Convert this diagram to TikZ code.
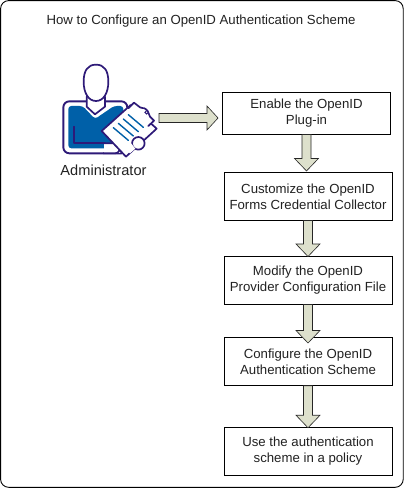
\documentclass[tikz,border=0pt]{standalone}
\usepackage{fontspec}
\usetikzlibrary{calc}
\setmainfont{Liberation Sans}
\definecolor{arrowfill}{HTML}{DDE0CC}
\definecolor{figline}{HTML}{2E1A78}
\definecolor{figblue}{HTML}{0060A8}
\definecolor{txt}{HTML}{222222}
\tikzset{
  stepbox/.style={draw=black,line width=0.9pt,fill=white,minimum width=168pt,inner sep=0pt,align=center,font=\fontsize{13.2pt}{16pt}\selectfont,text=txt},
  fatarrow/.style={draw=black!85,line width=0.6pt,fill=arrowfill,line join=miter},
  figstroke/.style={draw=figline,line width=1.7pt,line join=round,line cap=round},
}
\newcommand{\fatdown}[3]{% from node, to node, shaft length
  \draw[fatarrow] ($(#1.south)+(-4.5,0)$) -- ++(0,#3) -- ++(-7.5,0) -- ++(12,12.5) -- ++(12,-12.5) -- ++(-7.5,0) -- ++(0,-#3) -- cycle;
}
\begin{document}
\begin{tikzpicture}[x=1pt,y=-1pt]
\useasboundingbox (0,0) rectangle (404,488);
\fill[white] (0,0) rectangle (404,488);
\draw[black,line width=0.9pt,rounded corners=8pt] (0.6,0.6) rectangle (403.2,487.3);
\node[font=\fontsize{13.2pt}{16pt}\selectfont,text=txt] (title) at (201,21.5) {How to Configure an OpenID Authentication Scheme};
\node[stepbox,minimum height=42pt] (s1) at (306.5,113) {Enable the OpenID\\Plug-in};
\node[stepbox,minimum height=47.5pt] (s2) at (308,196.3) {Customize the OpenID\\Forms Credential Collector};
\node[stepbox,minimum height=47.5pt] (s3) at (308,280.3) {Modify the OpenID\\Provider Configuration File};
\node[stepbox,minimum height=48pt] (s4) at (308,361.3) {Configure the OpenID\\Authentication Scheme};
\node[stepbox,minimum height=48pt] (s5) at (308,451) {Use the authentication\\scheme in a policy};
\node[font=\fontsize{14.6pt}{16pt}\selectfont,text=txt] (admin) at (103.5,170.5) {Administrator};
% figure
\begin{scope}[shift={(40,50)},x=0.3333pt,y=-0.3333pt]
  \draw[figstroke,line width=1.9pt,fill=white,rounded corners=6pt] (70,310) -- (70,154) -- (262,154) -- (262,310) -- cycle;
  \fill[figblue,rounded corners=3pt] (85,168) -- (128,168) -- (165,207) -- (222,168) -- (250,168) -- (250,295) -- (85,295) -- cycle;
  \draw[figstroke,fill=white] (140,140) -- (140,170) -- (165,193) -- (195,170) -- (195,140);
  \draw[figstroke,fill=white] (131,95) .. controls (131,62) and (143,44) .. (168,44) .. controls (193,44) and (205,62) .. (205,95) .. controls (205,130) and (190,153) .. (168,153) .. controls (146,153) and (131,130) .. (131,95) -- cycle;
  \draw[figstroke] (102,230) -- (102,278) -- (195,278);
  \fill[white] (192,280) rectangle (240,310);
  \draw[figstroke] (190,280) -- (225,280) .. controls (245,282) and (245,308) .. (225,310) -- (190,310);
  \draw[figstroke,fill=white] (272,165) -- (350,236) -- (258,320) -- (185,243) -- cycle;
  \draw[figstroke,fill=white] (265,175) -- (282,158) -- (300,172) .. controls (305,178) and (310,170) .. (318,178) .. controls (328,185) and (325,195) .. (330,200) -- (342,212) -- (325,228);
  \draw[figline,line width=1pt,fill=white] (320,187) circle[radius=1.7pt];
  \foreach \d in {0,1,2,3}{
    \draw[figblue,line width=1.4pt,line cap=round] ({220+\d*15},{233-\d*13}) -- ({265+\d*15},{271-\d*13});
  }
  \draw[figstroke,fill=white] (295,280) circle[radius=6.3pt];
  \fill[white] (258,300) -- (272,278) -- (286,296) -- (270,310) -- cycle;
\end{scope}
% arrows
\coordinate (hs) at (159,118);
\draw[fatarrow] (159,113.5) -- (207,113.5) -- (207,106) -- ($(s1.west|-hs)+(-4,0)$) -- (207,130) -- (207,122.5) -- (159,122.5) -- cycle;
\fatdown{s1}{s2}{24}
\fatdown{s2}{s3}{23.5}
\fatdown{s3}{s4}{26}
\fatdown{s4}{s5}{29.5}
\end{tikzpicture}
\end{document}
